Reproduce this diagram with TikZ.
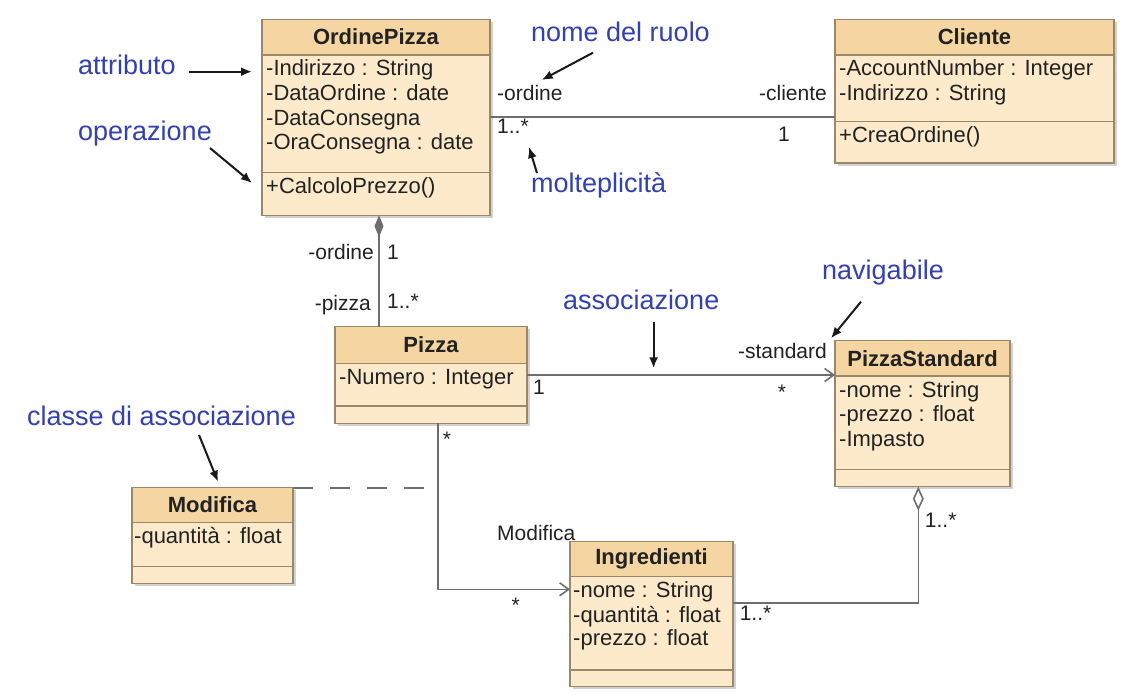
\documentclass[tikz,border=0pt]{standalone}
\usepackage{fontspec}
\setmainfont{Liberation Sans}
\usetikzlibrary{arrows.meta,shadows,calc}
\definecolor{bandc}{HTML}{F5D6A2}
\definecolor{bodyc}{HTML}{FCEACB}
\definecolor{edgec}{HTML}{9A8868}
\definecolor{linec}{HTML}{6E6E6E}
\definecolor{labc}{HTML}{3340AE}
\definecolor{txtc}{HTML}{222222}
\begin{document}
\begin{tikzpicture}[x=1pt,y=-1pt,
  cls/.style={draw=edgec, line width=1.2pt, fill=bodyc, inner sep=0pt, outer sep=0pt,
    drop shadow={shadow xshift=2.5pt, shadow yshift=-2.5pt, fill=black!35}},
  band/.style={fill=bandc},
  divl/.style={draw=edgec, line width=1.2pt},
  ttl/.style={font=\fontsize{22}{25}\selectfont\bfseries, text=txtc, inner sep=0pt},
  attr/.style={font=\fontsize{22}{25}\selectfont, text=txtc, inner sep=0pt, anchor=mid west},
  rl/.style={font=\fontsize{21}{25}\selectfont, text=txtc, inner sep=0pt},
  blab/.style={font=\fontsize{27}{30}\selectfont, text=labc, inner sep=0pt, anchor=mid west},
  conn/.style={draw=linec, line width=1.6pt},
  nav/.style={conn, -{Straight Barb[length=9pt,width=13pt]}},
  pointer/.style={draw=black!90, line width=2pt, -{Latex[length=11pt,width=9pt]}},
]
\useasboundingbox (0,0) rectangle (1140,699);
\fill[white] (0,0) rectangle (1140,699);

% ---------- OrdinePizza ----------
\node[cls, minimum width=228pt, minimum height=195.7pt] (op) at (376,117.35) {};
\fill[band] (262.6,19.9) rectangle (489.4,55);
\draw[divl] (262,55) -- (490,55);
\draw[divl] (262,172.7) -- (490,172.7);
\draw[edgec, line width=1.2pt] (op.north west) rectangle (op.south east);
\node[ttl] (opT) at (376,37) {OrdinePizza};
\node[attr] (opA1) at (266,72.7) {-Indirizzo : String};
\node[attr] (opA2) at (266,98.3) {-DataOrdine : date};
\node[attr] (opA3) at (266,123.3) {-DataConsegna};
\node[attr] (opA4) at (266,146.7) {-OraConsegna : date};
\node[attr] (opO1) at (266,190.7) {+CalcoloPrezzo()};

% ---------- Cliente ----------
\node[cls, minimum width=279pt, minimum height=143.7pt] (cl) at (974.5,91.15) {};
\fill[band] (835.6,19.9) rectangle (1113.4,55);
\draw[divl] (835,55) -- (1114,55);
\draw[divl] (835,121.7) -- (1114,121.7);
\draw[edgec, line width=1.2pt] (cl.north west) rectangle (cl.south east);
\node[ttl] (clT) at (974.5,37) {Cliente};
\node[attr] (clA1) at (839,72.7) {-AccountNumber : Integer};
\node[attr] (clA2) at (839,98.3) {-Indirizzo : String};
\node[attr] (clO1) at (839,140) {+CreaOrdine()};

% ---------- Pizza ----------
\node[cls, minimum width=192pt, minimum height=96.6pt] (pz) at (431,375) {};
\fill[band] (335.6,327.3) rectangle (526.4,363.3);
\draw[divl] (335,363.3) -- (527,363.3);
\draw[divl] (335,406) -- (527,406);
\draw[edgec, line width=1.2pt] (pz.north west) rectangle (pz.south east);
\node[ttl] (pzT) at (431,344.5) {Pizza};
\node[attr] (pzA1) at (339,381.7) {-Numero : Integer};

% ---------- PizzaStandard ----------
\node[cls, minimum width=175pt, minimum height=146pt] (ps) at (922.5,413.7) {};
\fill[band] (835.6,341.3) rectangle (1009.4,376);
\draw[divl] (835,376) -- (1010,376);
\draw[divl] (835,469.3) -- (1010,469.3);
\draw[edgec, line width=1.2pt] (ps.north west) rectangle (ps.south east);
\node[ttl] (psT) at (922.5,358.5) {PizzaStandard};
\node[attr] (psA1) at (839,395) {-nome : String};
\node[attr] (psA2) at (839,419.3) {-prezzo : float};
\node[attr] (psA3) at (839,444) {-Impasto};

% ---------- Modifica ----------
\node[cls, minimum width=161pt, minimum height=95.6pt] (mo) at (212.5,535.5) {};
\fill[band] (132.6,488.3) rectangle (292.4,522.7);
\draw[divl] (132,522.7) -- (293,522.7);
\draw[divl] (132,566.7) -- (293,566.7);
\draw[edgec, line width=1.2pt] (mo.north west) rectangle (mo.south east);
\node[ttl] (moT) at (212.5,505) {Modifica};
\node[attr] (moA1) at (134,540.7) {-quantità : float};

% ---------- Ingredienti ----------
\node[cls, minimum width=163pt, minimum height=145pt] (in) at (651.5,614.2) {};
\fill[band] (570.6,542.3) rectangle (732.4,576.7);
\draw[divl] (570,576.7) -- (733,576.7);
\draw[divl] (570,670) -- (733,670);
\draw[edgec, line width=1.2pt] (in.north west) rectangle (in.south east);
\node[ttl] (inT) at (651.5,558.5) {Ingredienti};
\node[attr] (inA1) at (573,595) {-nome : String};
\node[attr] (inA2) at (573,620) {-quantità : float};
\node[attr] (inA3) at (573,643.3) {-prezzo : float};

% ---------- guide coordinates ----------
\coordinate (rowOC) at (0,116.7);
\coordinate (colOP) at (379,0);
\coordinate (rowPS) at (0,375);
\coordinate (colPI) at (438,0);
\coordinate (rowPI) at (0,589.3);
\coordinate (colAG) at (918.3,0);
\coordinate (rowAG) at (0,602.7);
\coordinate (bendPI) at (438,589.3);
\coordinate (bendAG) at (918.3,602.7);
\coordinate (dashEnd) at (438,487.7);

% ---------- connectors ----------
\draw[conn] (op.east |- rowOC) -- (cl.west |- rowOC);
\draw[conn, {Diamond[length=22pt,width=9pt,fill=linec]}-] (op.south -| colOP) -- (pz.north -| colOP);
\draw[nav] (pz.east |- rowPS) -- (ps.west |- rowPS);
\draw[nav] (pz.south -| colPI) -- (bendPI) -- (in.west |- rowPI);
\draw[conn, dash pattern=on 20pt off 17pt] (mo.north east) -- (dashEnd);
\draw[conn, {Diamond[open,length=24pt,width=11pt]}-] (ps.south -| colAG) -- (bendAG) -- (in.east |- rowAG);

% ---------- role names and multiplicities ----------
\node[rl, anchor=mid west] (r1) at (497,98.3) {-ordine};
\node[rl, anchor=mid west] (m1) at (497,131) {1..*};
\node[rl, anchor=mid east] (r2) at (827,98.3) {-cliente};
\node[rl] (m2) at (784,134) {1};
\node[rl, anchor=mid east] (r3) at (374,256.7) {-ordine};
\node[rl, anchor=mid west] (m3) at (387,256.7) {1};
\node[rl, anchor=mid east] (r4) at (371,308) {-pizza};
\node[rl, anchor=mid west] (m4) at (387,306) {1..*};
\node[rl, anchor=mid west] (m5) at (533,391.7) {1};
\node[rl, anchor=mid east] (r5) at (827,356) {-standard};
\node[rl] (m6) at (782,392) {*};
\node[rl] (m7) at (447,439) {*};
\node[rl] (m8) at (515.6,605.7) {*};
\node[rl, anchor=mid west] (r6) at (497,538.3) {Modifica};
\node[rl, anchor=mid west] (m9) at (924.7,524.7) {1..*};
\node[rl, anchor=mid west] (m10) at (739.6,618) {1..*};

% ---------- blue annotations ----------
\node[blab] (lAttr) at (78,71.7) {attributo};
\node[blab] (lOper) at (78,138) {operazione};
\node[blab] (lRuolo) at (531,39.3) {nome del ruolo};
\node[blab] (lMolt) at (531,190) {molteplicità};
\node[blab] (lAssoc) at (563,306.7) {associazione};
\node[blab] (lNav) at (822,276.7) {navigabile};
\node[blab] (lClasse) at (27,423.3) {classe di associazione};

\coordinate (pAttr) at (252,71.7);
\coordinate (pOper) at (252,183);
\coordinate (pRuolo) at (541.7,80);
\coordinate (pMolt) at (529,147);
\coordinate (pAssoc) at (653.6,368.3);
\coordinate (pNav) at (831,338.3);
\coordinate (pClasse) at (218,481.7);

\draw[pointer] (189,71.7) -- (pAttr);
\draw[pointer] (210,148) -- (pOper);
\draw[pointer] (593,52.7) -- (pRuolo);
\draw[pointer] (537,173) -- (pMolt);
\draw[pointer] (653.6,321.7) -- (pAssoc);
\draw[pointer] (861,301.7) -- (pNav);
\draw[pointer] (199,435) -- (pClasse);
\end{tikzpicture}
\end{document}
